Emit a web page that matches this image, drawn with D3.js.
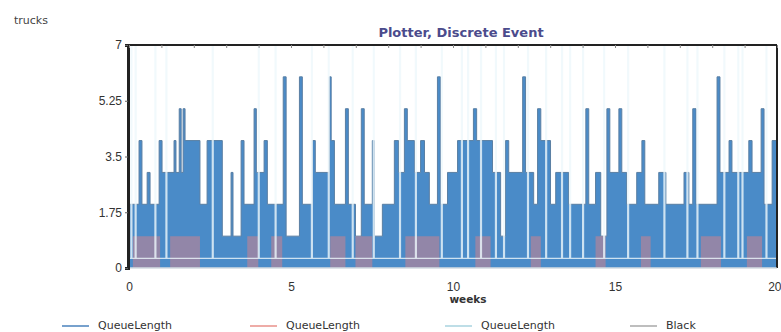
<!DOCTYPE html>
<html>
<head>
<meta charset="utf-8">
<script src="https://cdn.jsdelivr.net/npm/d3@7/dist/d3.min.js"></script>
<style>
  body { margin: 0; background: #fff; }
  svg { display: block; font-family: "DejaVu Sans", Verdana, sans-serif; }
</style>
</head>
<body>
<svg id="chart" width="781" height="332"></svg>
<script>
// Data: step series, [weeks, trucks]
const blueSteps = [
  [0, 2], [0.31, 4], [0.40, 2], [0.56, 3], [0.65, 2], [0.93, 4], [1.02, 3], [1.39, 4], [1.45, 3],
  [1.55, 5], [1.61, 3], [1.67, 5], [1.73, 4], [2.19, 2], [2.41, 4], [2.88, 1], [3.15, 3], [3.21, 1],
  [3.46, 4], [3.55, 2], [3.86, 5], [3.93, 3], [4.17, 4], [4.27, 2], [4.76, 6], [4.85, 1], [5.26, 6],
  [5.35, 2], [5.66, 4], [5.75, 3], [6.18, 6], [6.24, 4], [6.34, 2], [6.68, 5], [6.77, 2], [6.99, 1],
  [7.17, 5], [7.26, 2], [7.51, 4], [7.57, 1], [7.82, 2], [8.19, 4], [8.32, 3], [8.50, 5], [8.59, 4],
  [8.81, 3], [9.00, 4], [9.12, 3], [9.27, 2], [9.52, 6], [9.61, 2], [9.83, 3], [10.14, 4], [10.63, 5],
  [10.73, 4], [11.22, 3], [11.47, 1], [11.62, 4], [11.72, 3], [12.15, 6], [12.24, 3], [12.49, 2],
  [12.61, 5], [12.71, 4], [13.01, 2], [13.17, 3], [13.57, 2], [14.10, 5], [14.19, 2], [14.40, 3],
  [14.56, 1], [14.75, 5], [14.84, 3], [15.12, 5], [15.21, 3], [15.36, 2], [15.67, 3], [15.83, 4],
  [15.92, 2], [16.35, 3], [16.57, 2], [17.13, 3], [17.28, 2], [17.40, 5], [17.50, 2], [18.15, 6],
  [18.24, 3], [18.52, 4], [18.61, 3], [19.13, 4], [19.23, 3], [19.51, 5], [19.60, 2], [19.85, 4], [20, 4]
]
const redSteps = [
  [0, 0], [0.12, 1], [0.96, 0], [1.27, 1], [2.19, 0], [3.65, 1], [3.99, 0], [4.39, 1], [4.73, 0],
  [6.21, 1], [6.68, 0], [6.99, 1], [7.51, 0], [8.53, 1], [9.58, 0], [10.69, 1], [11.16, 0],
  [12.40, 1], [12.71, 0], [14.40, 1], [14.71, 0], [15.80, 1], [16.10, 0], [17.65, 1], [18.27, 0],
  [19.07, 1], [19.54, 0], [20, 0]
]
const cyanSteps = [
  [0, 0.3], [0.06, 7], [0.09, 0.3], [0.19, 7], [0.22, 0.3], [0.80, 7], [0.83, 0.3], [1.14, 7], [1.17, 0.3],
  [2.57, 7], [2.60, 0.3], [3.99, 7], [4.02, 0.3], [4.51, 7], [4.54, 0.3], [5.63, 7], [5.66, 0.3],
  [6.15, 7], [6.18, 0.3], [6.89, 7], [6.92, 0.3], [7.54, 7], [7.57, 0.3], [8.35, 7], [8.38, 0.3],
  [8.84, 7], [8.87, 0.3], [9.64, 7], [9.67, 0.3], [10.26, 7], [10.29, 0.3], [10.45, 7], [10.48, 0.3],
  [10.85, 7], [10.88, 0.3], [11.31, 7], [11.34, 0.3], [11.56, 7], [11.59, 0.3], [12.30, 7], [12.33, 0.3],
  [12.86, 7], [12.89, 0.3], [13.35, 7], [13.38, 0.3], [13.60, 7], [13.63, 0.3], [14.00, 7], [14.03, 0.3],
  [14.65, 7], [14.68, 0.3], [15.39, 7], [15.42, 0.3], [16.51, 7], [16.54, 0.3], [17.22, 7], [17.25, 0.3],
  [17.53, 7], [17.56, 0.3], [18.36, 7], [18.39, 0.3], [18.79, 7], [18.82, 0.3], [18.92, 7], [18.95, 0.3],
  [19.66, 7], [19.69, 0.3], [20, 0.3]
]
const blackSteps = [[0, 0], [20, 0]]

const yTicks = [0, 1.75, 3.5, 5.25, 7]
const yTickLabels = ["0", "1.75", "3.5", "5.25", "7"]
const xTicks = [0, 5, 10, 15, 20]
const legendNames = ["QueueLength", "QueueLength", "QueueLength", "Black"]
const legendColors = ["#4a82bd", "#e8908a", "#a9d3df", "#a8a8a8"]

// Layout
const margin = { top: 45, left: 129, right: 4, bottom: 64 }
const width = 781, height = 332
const svg = d3.select("#chart")

const x = d3.scaleLinear().domain([0, 20]).range([margin.left, width - margin.right])
const y = d3.scaleLinear().domain([0, 7]).range([height - margin.bottom, margin.top])

// Series
const area = d3.area().curve(d3.curveStepAfter).x(d => x(d[0])).y0(y(0)).y1(d => y(d[1]))
const line = d3.line().curve(d3.curveStepAfter).x(d => x(d[0])).y(d => y(d[1]))

svg.append("path").datum(blueSteps).attr("d", area).attr("fill", "#4a8bc8")
svg.append("path").datum(blueSteps).attr("d", line).attr("fill", "none")
  .attr("stroke", "#5a7fa3").attr("stroke-width", 1)
svg.append("path").datum(redSteps).attr("d", area).attr("fill", "#ec8080").attr("fill-opacity", 0.45)
svg.append("path").datum(cyanSteps).attr("d", line).attr("fill", "none")
  .attr("stroke", "#eef8fb").attr("stroke-width", 1.2).attr("stroke-opacity", 0.8)
svg.append("path").datum(blackSteps).attr("d", line).attr("fill", "none")
  .attr("stroke", "#c8c8c8").attr("stroke-width", 1)

// Frame
svg.append("line").attr("x1", x(0)).attr("x2", x(20)).attr("y1", y(7)).attr("y2", y(7))
  .attr("stroke", "#222").attr("stroke-width", 2)
svg.append("line").attr("x1", x(20)).attr("x2", x(20)).attr("y1", y(7)).attr("y2", y(0))
  .attr("stroke", "#222").attr("stroke-width", 2)
svg.append("line").attr("x1", x(0)).attr("x2", x(20)).attr("y1", y(0)).attr("y2", y(0))
  .attr("stroke", "#d9e6f0").attr("stroke-width", 1)

// Y axis
svg.append("g")
  .attr("transform", `translate(${x(0) - 1},0)`)
  .call(d3.axisLeft(y).tickValues(yTicks).tickSize(3).tickFormat((d, i) => yTickLabels[i]))
  .call(g => g.select(".domain").attr("stroke", "#222").attr("stroke-width", 3))
  .call(g => g.selectAll(".tick line").attr("stroke", "#666"))
  .selectAll("text")
  .attr("fill", "#333")
  .style("font-size", "12px")

// X axis
svg.append("g")
  .attr("transform", `translate(0,${y(0)})`)
  .call(d3.axisBottom(x).tickValues(xTicks).tickSize(0).tickPadding(14))
  .call(g => g.select(".domain").remove())
  .selectAll("text")
  .attr("fill", "#333")
  .style("font-size", "12px")
  .attr("text-anchor", d => d === 20 ? "end" : "middle")
  .attr("dx", d => d === 20 ? 4 : 0)

// Minor ticks on top edge
svg.append("g")
  .attr("transform", `translate(0,${y(7)})`)
  .call(d3.axisBottom(x).ticks(20).tickSize(3).tickFormat(""))
  .call(g => g.select(".domain").remove())
  .call(g => g.selectAll(".tick line").attr("stroke", "#888"))

// Titles
svg.append("text").attr("x", 461).attr("y", 37).attr("text-anchor", "middle")
  .attr("fill", "#4b4b8c").style("font-size", "13px").style("font-weight", "bold")
  .text("Plotter, Discrete Event")
svg.append("text").attr("x", 14).attr("y", 24).attr("fill", "#444")
  .style("font-size", "11px").text("trucks")
svg.append("text").attr("x", 468).attr("y", 303).attr("text-anchor", "middle")
  .attr("fill", "#333").style("font-size", "10.5px").style("font-weight", "bold").text("weeks")

// Legend
const legendX = [62, 250, 445, 630]
const legend = svg.append("g").selectAll("g")
  .data(legendNames.map((name, i) => ({ name, color: legendColors[i], lx: legendX[i] })))
  .join("g")
  .attr("transform", d => `translate(${d.lx},326)`)
legend.append("line").attr("x1", 0).attr("x2", 27).attr("y1", 0).attr("y2", 0)
  .attr("stroke", d => d.color).attr("stroke-width", 1.5)
legend.append("text").attr("x", 36).attr("y", 3).attr("fill", "#333")
  .style("font-size", "11px").text(d => d.name)
</script>
</body>
</html>
